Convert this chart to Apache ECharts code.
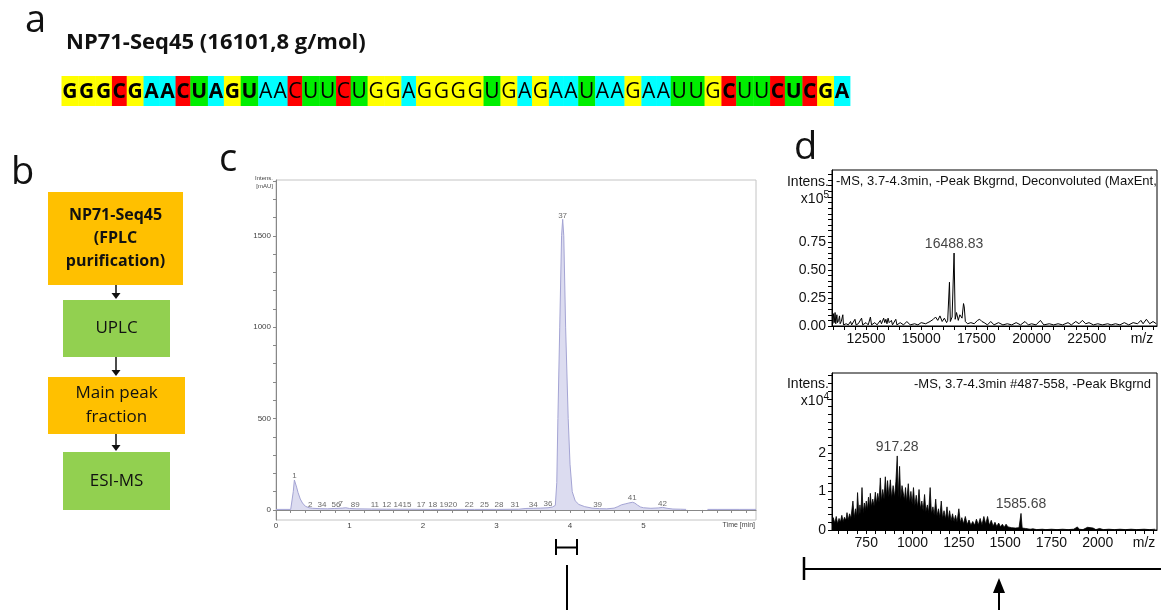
<!DOCTYPE html>
<html>
<head>
<meta charset="utf-8">
<script src="https://cdn.jsdelivr.net/npm/echarts@6.0.0/dist/echarts.min.js"></script>
<style>
    html, body { margin: 0; padding: 0; background: #fff; }
    #main { width: 1161px; height: 610px; }
</style>
</head>
<body>
<div id="main"></div>
<script>
// ---- a: sequence ----
var seqTitle = 'NP71-Seq45 (16101,8 g/mol)';
var sequence = 'GGGCGAACUAGUAACUUCUGGAGGGGUGAGAAUAAGAAUUGCUUCUCGA';
var boldIdx = [0, 1, 2, 3, 4, 5, 6, 7, 8, 9, 10, 11, 41, 44, 45, 46, 47, 48];
var baseColors = {G: '#ffff00', A: '#00ffff', C: '#ff0000', U: '#00ee00'};

// ---- b: workflow ----
var flowSteps = ['NP71-Seq45\n(FPLC\npurification)', 'UPLC', 'Main peak\nfraction', 'ESI-MS'];

// ---- c: UPLC chromatogram ----
var uvTime = [0, 0.2, 0.22, 0.235, 0.25, 0.26, 0.28, 0.3, 0.33, 0.36, 0.4, 0.45, 0.5, 0.6, 0.7, 0.8, 0.9, 0.95,
    1.0, 1.1, 1.3, 1.5, 1.8, 2.1, 2.4, 2.7, 3.0, 3.3, 3.4, 3.5, 3.6, 3.7, 3.76, 3.8, 3.82, 3.835, 3.86, 3.885, 3.9,
    3.915, 3.94, 3.975, 4.0, 4.03, 4.07, 4.12, 4.2, 4.3, 4.4, 4.5, 4.6, 4.65, 4.7, 4.75, 4.8, 4.85, 4.88,
    4.92, 4.96, 5.0, 5.1, 5.2, 5.26, 5.32, 5.4, 5.5, 5.58, 5.72, 5.87, 6.0, 6.3, 6.53];
var uvIntensity = [3, 3, 10, 100, 164, 160, 125, 95, 60, 38, 20, 12, 9, 7, 6, 8, 10, 12,
    8, 6, 5, 4, 4, 3, 3, 3, 3, 4, 8, 9, 10, 12, 16, 25, 150, 500, 1000, 1500, 1590,
    1500, 1000, 500, 250, 100, 50, 30, 18, 10, 7, 6, 10, 18, 28, 33, 38, 42, 38,
    26, 16, 12, 9, 11, 14, 9, 5, 4, 3, null, 3, 3, 3, 3];
var peakNames = ['1', '2', '34', '56', '7', '89', '11', '12', '1415', '17', '18', '1920', '22', '25', '28', '31', '34', '36', '37', '39', '41', '42'];
var peakTimes = [0.253, 0.466, 0.625, 0.815, 0.882, 1.077, 1.344, 1.507, 1.72, 1.974, 2.133, 2.345, 2.63, 2.835, 3.034, 3.251, 3.5, 3.7, 3.899, 4.375, 4.846, 5.258];
var peakHeights = [164, 4, 4, 4, 12, 5, 4, 4, 4, 4, 4, 4, 4, 4, 4, 4, 8, 10, 1590, 4, 42, 14];
var uvTickLabels = [0, 500, 1000, 1500];

// ---- d: ESI-MS, deconvoluted (x10^5) ----
var deconvMz = [11000, 11030, 11060, 11100, 11130, 11180, 11210, 11260, 11300, 11330, 11380, 11450, 11480, 11600, 11700,
    11800, 11850, 12000, 12050, 12150, 12300, 12350, 12500, 12600, 12700, 12750, 12900, 13000, 13150, 13200, 13300,
    13350, 13400, 13450, 13500, 13550, 13650, 13700, 13850, 13900, 14050, 14200, 14350, 14500, 14700, 14850, 15000,
    15200, 15400, 15550, 15650, 15750, 15850, 15950, 16050, 16150, 16200, 16280, 16320, 16400, 16488.83, 16540, 16600,
    16680, 16750, 16850, 16917, 16950, 17000, 17100, 17250, 17400, 17550, 17650, 17750, 17850, 18000, 18150, 18300,
    18500, 18700, 18900, 19100, 19300, 19500, 19700, 19850, 20000, 20200, 20400, 20550, 20800, 21000, 21200, 21400,
    21650, 21800, 22000, 22150, 22300, 22450, 22600, 22800, 23000, 23200, 23450, 23600, 23800, 24000, 24200, 24400,
    24600, 24800, 24950, 25050, 25200, 25350, 25500, 25650];
var deconvInt = [0.02, 0.11, 0.03, 0.12, 0.02, 0.10, 0.03, 0.05, 0.09, 0.02, 0.04, 0.10, 0.01, 0.02, 0.01,
    0.04, 0.01, 0.06, 0.01, 0.02, 0.07, 0.01, 0.03, 0.01, 0.08, 0.01, 0.03, 0.01, 0.05, 0.02, 0.07,
    0.03, 0.06, 0.02, 0.07, 0.03, 0.05, 0.01, 0.06, 0.01, 0.03, 0.01, 0.04, 0.01, 0.02, 0.01, 0.03,
    0.02, 0.04, 0.06, 0.08, 0.05, 0.09, 0.04, 0.07, 0.03, 0.05, 0.39, 0.04, 0.08, 0.65, 0.06, 0.12,
    0.05, 0.10, 0.07, 0.20, 0.17, 0.04, 0.02, 0.03, 0.02, 0.05, 0.06, 0.04, 0.03, 0.01, 0.04, 0.01,
    0.03, 0.01, 0.02, 0.01, 0.03, 0.01, 0.04, 0.01, 0.02, 0.01, 0.05, 0.01, 0.02, 0.01, 0.02, 0.01,
    0.03, 0.01, 0.04, 0.02, 0.05, 0.02, 0.03, 0.01, 0.02, 0.01, 0.02, 0.01, 0.02, 0.01, 0.03, 0.01,
    0.03, 0.02, 0.05, 0.02, 0.06, 0.02, 0.04, 0.02];
var deconvPeakMz = [16488.83];
var deconvPeakInt = [0.65];

// ---- d: ESI-MS, raw spectrum (x10^4) ----
var msMz = [565, 572, 580, 588, 595, 603, 610, 618, 625, 632, 640, 646, 652, 660, 667, 678, 685, 692, 698, 703,
    710, 716, 721, 727, 733, 740, 745, 750, 756, 762, 767, 772, 778, 785, 792, 799, 805, 812, 819, 826,
    832, 839, 846, 853, 859, 865, 872, 880, 887, 895, 903, 910, 917.28, 922, 930, 936, 943, 950, 956, 962,
    968, 977, 984, 991, 998, 1005, 1012, 1020, 1027, 1035, 1042, 1050, 1057, 1065, 1072, 1080, 1087, 1095, 1102, 1110,
    1117, 1125, 1132, 1140, 1147, 1155, 1162, 1170, 1178, 1186, 1193, 1200, 1208, 1216, 1224, 1232, 1240, 1250, 1258, 1266,
    1275, 1285, 1295, 1305, 1315, 1325, 1335, 1345, 1355, 1365, 1375, 1385, 1395, 1405, 1415, 1425, 1435, 1445, 1455, 1465,
    1475, 1485, 1495, 1505, 1515, 1525, 1535, 1545, 1555, 1565, 1575, 1585.68, 1592, 1600, 1610, 1620, 1635, 1650, 1670, 1700,
    1720, 1750, 1780, 1810, 1840, 1870, 1890, 1900, 1920, 1945, 1955, 1975, 1990, 2010, 2030, 2060, 2090, 2120, 2150, 2180,
    2210, 2250, 2280, 2310];
var msInt = [0.15, 0.32, 0.18, 0.35, 0.16, 0.3, 0.2, 0.38, 0.22, 0.33, 0.25, 0.45, 0.26, 0.42, 0.3, 0.75, 0.32, 0.55, 0.35, 0.97,
    0.38, 0.65, 0.42, 1.1, 0.45, 0.7, 0.5, 0.75, 0.52, 0.85, 0.55, 0.95, 0.6, 0.8, 0.62, 0.98, 0.68, 0.95, 0.72, 1.35,
    0.75, 1.05, 0.8, 1.38, 0.85, 1.28, 0.85, 1.3, 0.82, 1.15, 0.85, 1.25, 1.92, 0.85, 1.65, 0.8, 1.15, 1.2, 0.78, 1.1,
    0.72, 1.2, 0.7, 1.0, 0.66, 1.1, 0.62, 0.9, 0.58, 1.05, 0.55, 0.75, 0.5, 0.92, 0.48, 0.65, 0.45, 1.1, 0.42, 0.6,
    0.38, 0.8, 0.36, 0.55, 0.32, 0.75, 0.3, 0.5, 0.28, 0.6, 0.26, 0.5, 0.24, 0.42, 0.22, 0.38, 0.2, 0.55, 0.19, 0.32,
    0.16, 0.35, 0.14, 0.26, 0.12, 0.22, 0.12, 0.28, 0.13, 0.3, 0.13, 0.35, 0.15, 0.35, 0.12, 0.25, 0.1, 0.2, 0.09, 0.18,
    0.08, 0.15, 0.07, 0.15, 0.08, 0.12, 0.06, 0.1, 0.05, 0.1, 0.06, 0.43, 0.05, 0.1, 0.04, 0.06, 0.02, 0.03, 0.01, 0.02,
    0.01, 0.02, 0.01, 0.02, 0.01, 0.02, 0.08, 0.02, 0.01, 0.07, 0.02, 0.05, 0.01, 0.04, 0.01, 0.02, 0.01, 0.02, 0.01, 0.02,
    0.01, 0.02, 0.01, 0.02];
var msPeakMz = [917.28, 1585.68];
var msPeakInt = [1.92, 0.43];

var deconvTickLabels = [12500, 15000, 17500, 20000, 22500, 25000];
var msTickLabels = [750, 1000, 1250, 1500, 1750, 2000, 2250];
var deconvYLabels = [0, 0.25, 0.5, 0.75];
var msYLabels = [0, 1, 2];

function steps(from, to, step) {
    var res = [];
    for (var v = from; v <= to + 1e-9; v += step) {
        res.push(Math.round(v * 1000) / 1000);
    }
    return res;
}
function zip(a, b) {
    var res = [];
    for (var i = 0; i < a.length; i++) {
        res.push([a[i], b[i]]);
    }
    return res;
}

var chart = echarts.init(document.getElementById('main'));
var msFont = 'Liberation Sans';
var graphics = [];

// panel letters
[['a', 25, 21], ['b', 11, 173], ['c', 219, 160], ['d', 794, 148]].forEach(function (l) {
    graphics.push({
        type: 'text', x: l[1], y: l[2],
        style: {text: l[0], font: '38px "Open Sans"', fill: '#111', verticalAlign: 'middle'}
    });
});

graphics.push({
    type: 'text', x: 66, y: 43,
    style: {text: seqTitle, font: 'bold 22px "Open Sans"', fill: '#111', verticalAlign: 'middle'}
});

// sequence row, widths follow the glyphs
var measure = document.createElement('canvas').getContext('2d');
var seqLeft = 61.5, seqRight = 850, seqTop = 76, seqHeight = 30;
var widths = [], total = 0;
for (var i = 0; i < sequence.length; i++) {
    measure.font = (boldIdx.indexOf(i) >= 0 ? 'bold ' : '') + '21px "Open Sans"';
    var w = measure.measureText(sequence[i]).width;
    widths.push(w);
    total += w;
}
var k = (seqRight - seqLeft) / total;
var cx = seqLeft;
for (var j = 0; j < sequence.length; j++) {
    var cw = widths[j] * k;
    graphics.push({
        type: 'rect', shape: {x: cx, y: seqTop, width: cw + 0.4, height: seqHeight},
        style: {fill: baseColors[sequence[j]]}
    });
    graphics.push({
        type: 'text', x: cx + cw / 2, y: seqTop + seqHeight / 2 + 1,
        style: {
            text: sequence[j], fill: '#000', align: 'center', verticalAlign: 'middle',
            font: (boldIdx.indexOf(j) >= 0 ? 'bold ' : '') + '21px "Open Sans"'
        }
    });
    cx += cw;
}

// workflow boxes
var boxes = [
    {x: 48, y: 192, w: 135, h: 93, color: '#ffc000', bold: true},
    {x: 63, y: 300, w: 107, h: 57, color: '#92d050'},
    {x: 48, y: 377, w: 137, h: 57, color: '#ffc000'},
    {x: 63, y: 452, w: 107, h: 58, color: '#92d050'}
];
boxes.forEach(function (b, idx) {
    graphics.push({type: 'rect', shape: {x: b.x, y: b.y, width: b.w, height: b.h}, style: {fill: b.color}});
    graphics.push({
        type: 'text', x: b.x + b.w / 2, y: b.y + b.h / 2,
        style: {
            text: flowSteps[idx], align: 'center', verticalAlign: 'middle', fill: '#111',
            font: (b.bold ? 'bold 16px' : '17px') + ' "Open Sans"', lineHeight: b.bold ? 23 : 24
        }
    });
    if (idx < boxes.length - 1) {
        var y0 = b.y + b.h, y1 = boxes[idx + 1].y;
        graphics.push({type: 'line', shape: {x1: 116, y1: y0, x2: 116, y2: y1 - 5}, style: {stroke: '#111', lineWidth: 1.5}});
        graphics.push({
            type: 'polygon', shape: {points: [[111.5, y1 - 7], [120.5, y1 - 7], [116, y1 - 1]]},
            style: {fill: '#111'}
        });
    }
});

// chromatogram captions
graphics.push({type: 'text', x: 273, y: 178, style: {text: 'Intens.', font: '6px "Liberation Sans"', fill: '#444', align: 'right', verticalAlign: 'middle'}});
graphics.push({type: 'text', x: 273, y: 186, style: {text: '[mAU]', font: '6px "Liberation Sans"', fill: '#444', align: 'right', verticalAlign: 'middle'}});
graphics.push({type: 'text', x: 755, y: 525, style: {text: 'Time [min]', font: '7px "Liberation Sans"', fill: '#444', align: 'right', verticalAlign: 'middle'}});

// MS captions
graphics.push({type: 'text', x: 829, y: 182, style: {text: 'Intens.', font: '14px "Liberation Sans"', fill: '#111', align: 'right', verticalAlign: 'middle'}});
graphics.push({
    type: 'text', x: 829, y: 199,
    style: {
        text: 'x10{s|5}', font: '14px "Liberation Sans"', fill: '#111', align: 'right', verticalAlign: 'middle',
        rich: {s: {fontSize: 10, verticalAlign: 'top', padding: [0, 0, 8, 0]}}
    }
});
graphics.push({type: 'text', x: 836, y: 181, style: {text: '-MS, 3.7-4.3min, -Peak Bkgrnd, Deconvoluted (MaxEnt, 1', font: '13px "Liberation Sans"', fill: '#111', verticalAlign: 'middle'}});
graphics.push({type: 'text', x: 829, y: 384, style: {text: 'Intens.', font: '14px "Liberation Sans"', fill: '#111', align: 'right', verticalAlign: 'middle'}});
graphics.push({
    type: 'text', x: 829, y: 401,
    style: {
        text: 'x10{s|4}', font: '14px "Liberation Sans"', fill: '#111', align: 'right', verticalAlign: 'middle',
        rich: {s: {fontSize: 10, verticalAlign: 'top', padding: [0, 0, 8, 0]}}
    }
});
graphics.push({type: 'text', x: 1151, y: 384, style: {text: '-MS, 3.7-4.3min #487-558, -Peak Bkgrnd', font: '13px "Liberation Sans"', fill: '#111', align: 'right', verticalAlign: 'middle'}});

// brackets under c and d
var ink = {stroke: '#000', lineWidth: 2};
graphics.push({type: 'line', shape: {x1: 556, y1: 539, x2: 556, y2: 555}, style: ink});
graphics.push({type: 'line', shape: {x1: 577, y1: 539, x2: 577, y2: 555}, style: ink});
graphics.push({type: 'line', shape: {x1: 556, y1: 547.5, x2: 577, y2: 547.5}, style: ink});
graphics.push({type: 'line', shape: {x1: 567, y1: 565, x2: 567, y2: 610}, style: ink});
graphics.push({type: 'line', shape: {x1: 804, y1: 569, x2: 1161, y2: 569}, style: ink});
graphics.push({type: 'line', shape: {x1: 804, y1: 557, x2: 804, y2: 580}, style: {stroke: '#000', lineWidth: 2.5}});
graphics.push({type: 'line', shape: {x1: 999, y1: 590, x2: 999, y2: 610}, style: ink});
graphics.push({type: 'polygon', shape: {points: [[993, 593], [1005, 593], [999, 578]]}, style: {fill: '#000'}});

var uvAxisStyle = {lineStyle: {color: '#888', width: 1}};
var msAxisStyle = {lineStyle: {color: '#000', width: 1}};

option = {
    animation: false,
    backgroundColor: '#fff',
    graphic: graphics,
    grid: [
        {left: 276, top: 180, width: 480, height: 340, show: true, borderColor: '#c4c4c4', borderWidth: 1, backgroundColor: 'transparent'},
        {left: 832, top: 170, width: 325, height: 156, show: true, borderColor: '#000', borderWidth: 1, backgroundColor: 'transparent'},
        {left: 832, top: 373, width: 325, height: 157, show: true, borderColor: '#000', borderWidth: 1, backgroundColor: 'transparent'}
    ],
    xAxis: [
        {
            type: 'value', gridIndex: 0, min: 0, max: 6.53,
            axisLine: uvAxisStyle, splitLine: {show: false},
            axisTick: {customValues: steps(0, 6.4, 0.2), length: 3, lineStyle: {color: '#888'}},
            axisLabel: {customValues: [0, 1, 2, 3, 4, 5], margin: 2, fontSize: 8, color: '#444', fontFamily: msFont}
        },
        {
            type: 'value', gridIndex: 1, min: 10960, max: 25680,
            axisLine: msAxisStyle, splitLine: {show: false},
            axisTick: {customValues: steps(11000, 25500, 500), length: 4, lineStyle: {color: '#000'}},
            axisLabel: {
                customValues: deconvTickLabels, margin: 6, fontSize: 14, color: '#111', fontFamily: msFont,
                formatter: function (v) { return v === 25000 ? 'm/z' : String(v); }
            }
        },
        {
            type: 'value', gridIndex: 2, min: 565, max: 2320,
            axisLine: msAxisStyle, splitLine: {show: false},
            axisTick: {customValues: steps(600, 2300, 50), length: 4, lineStyle: {color: '#000'}},
            axisLabel: {
                customValues: msTickLabels, margin: 6, fontSize: 14, color: '#111', fontFamily: msFont,
                formatter: function (v) { return v === 2250 ? 'm/z' : String(v); }
            }
        }
    ],
    yAxis: [
        {
            type: 'value', gridIndex: 0, min: -55, max: 1805,
            axisLine: Object.assign({show: true}, uvAxisStyle), splitLine: {show: false},
            axisTick: {show: true, customValues: steps(0, 1800, 100), length: 3, lineStyle: {color: '#888'}},
            axisLabel: {
                customValues: uvTickLabels, margin: 5, fontSize: 8, color: '#444', fontFamily: msFont,
                formatter: function (v) { return String(v); }
            }
        },
        {
            type: 'value', gridIndex: 1, min: 0, max: 1.39,
            axisLine: Object.assign({show: true}, msAxisStyle), splitLine: {show: false},
            axisTick: {show: true, customValues: steps(0, 1.35, 0.05), length: 4, lineStyle: {color: '#000'}},
            axisLabel: {
                customValues: deconvYLabels, margin: 6, fontSize: 14, color: '#111', fontFamily: msFont,
                formatter: function (v) { return v.toFixed(2); }
            }
        },
        {
            type: 'value', gridIndex: 2, min: 0, max: 4.07,
            axisLine: Object.assign({show: true}, msAxisStyle), splitLine: {show: false},
            axisTick: {show: true, customValues: steps(0, 4, 0.2), length: 4, lineStyle: {color: '#000'}},
            axisLabel: {customValues: msYLabels, margin: 6, fontSize: 14, color: '#111', fontFamily: msFont}
        }
    ],
    series: [
        {
            type: 'line', xAxisIndex: 0, yAxisIndex: 0, data: zip(uvTime, uvIntensity),
            showSymbol: false, connectNulls: false,
            lineStyle: {color: '#a4a4d4', width: 1},
            areaStyle: {color: '#dcdcf0', opacity: 1, origin: 0}
        },
        {
            type: 'scatter', xAxisIndex: 0, yAxisIndex: 0, symbolSize: 0,
            data: peakTimes.map(function (t, i) { return {value: [t, peakHeights[i]], name: peakNames[i]}; }),
            label: {show: true, position: 'top', distance: 0, formatter: '{b}', fontSize: 8, color: '#444', fontFamily: msFont}
        },
        {
            type: 'line', xAxisIndex: 1, yAxisIndex: 1, data: zip(deconvMz, deconvInt),
            showSymbol: false, lineStyle: {color: '#000', width: 1}
        },
        {
            type: 'scatter', xAxisIndex: 1, yAxisIndex: 1, symbolSize: 0,
            data: zip(deconvPeakMz, deconvPeakInt),
            label: {
                show: true, position: 'top', distance: 2, fontSize: 14, color: '#111', fontFamily: msFont,
                formatter: function (p) { return p.value[0].toFixed(2); }
            }
        },
        {
            type: 'line', xAxisIndex: 2, yAxisIndex: 2, data: zip(msMz, msInt),
            showSymbol: false, lineStyle: {color: '#000', width: 0.8},
            areaStyle: {color: '#000', opacity: 1}
        },
        {
            type: 'scatter', xAxisIndex: 2, yAxisIndex: 2, symbolSize: 0,
            data: zip(msPeakMz, msPeakInt),
            label: {
                show: true, position: 'top', distance: 2, fontSize: 14, color: '#111', fontFamily: msFont,
                formatter: function (p) { return p.value[0].toFixed(2); }
            }
        }
    ]
};

chart.setOption(option);
window.addEventListener('resize', function () {
    chart.resize();
});
</script>
</body>
</html>
